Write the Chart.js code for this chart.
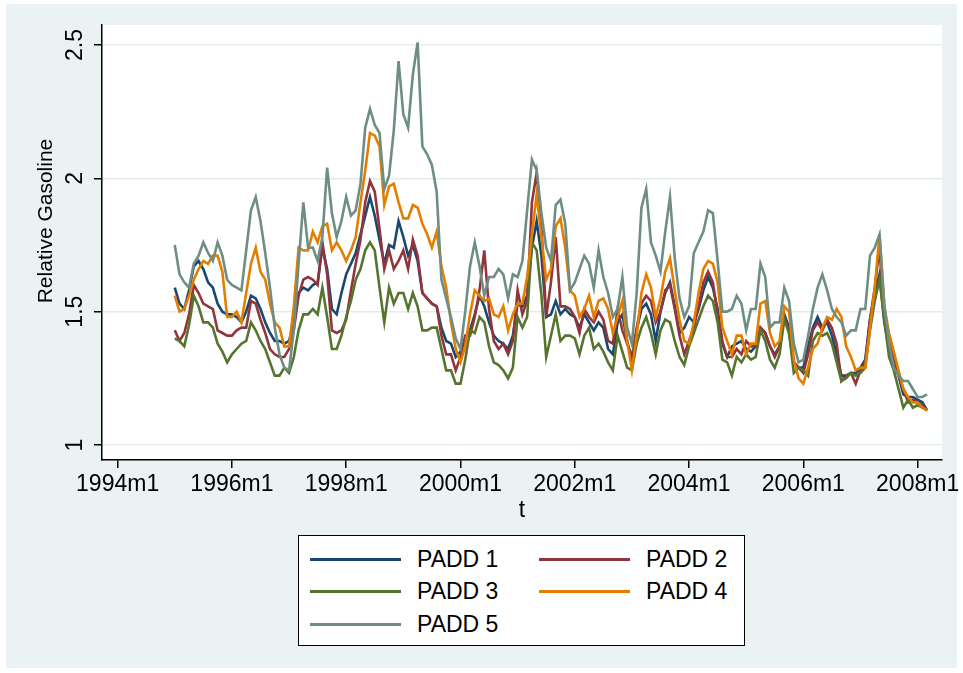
<!DOCTYPE html>
<html>
<head>
<meta charset="utf-8">
<script src="https://cdn.jsdelivr.net/npm/chart.js@4.4.1/dist/chart.umd.min.js"></script>
<style>
  html, body { margin: 0; padding: 0; background: #fff; }
  body { width: 963px; height: 673px; position: relative; overflow: hidden;
         font-family: "Liberation Sans", Arial, sans-serif; }
  #bg { position: absolute; left: 6px; top: 4px; right: 6px; bottom: 5px; background: #eaf2f3; }
  #c { position: absolute; left: 0; top: 0; }
  #legend { position: absolute; left: 298px; top: 535px; width: 447px; height: 111px;
            box-sizing: border-box; border: 1.5px solid #000; background: #fff; }
  .item { position: absolute; height: 28px; display: flex; align-items: center;
          font-size: 23px; color: #000; white-space: nowrap; }
  .item .swatch { width: 91px; height: 3px; margin-right: 16px; }
</style>
</head>
<body>
<div id="bg"></div>
<canvas id="c" width="963" height="673"></canvas>
<div id="legend"></div>
<script>
// ── Data: monthly relative gasoline, 1995m1 .. 2008m3 ─────────
const firstMonth = '1995m1';

const padd1 = [
  1.59, 1.53, 1.51, 1.58, 1.67, 1.69, 1.66, 1.61, 1.59, 1.53, 1.50, 1.49,
  1.49, 1.48, 1.46, 1.50, 1.56, 1.55, 1.51, 1.46, 1.42, 1.39, 1.39, 1.38,
  1.39, 1.46, 1.57, 1.59, 1.58, 1.60, 1.61, 1.74, 1.66, 1.51, 1.49, 1.57,
  1.64, 1.68, 1.72, 1.79, 1.86, 1.93, 1.86, 1.77, 1.68, 1.75, 1.74, 1.84,
  1.78, 1.71, 1.75, 1.69, 1.57, 1.55, 1.53, 1.52, 1.44, 1.39, 1.38, 1.33,
  1.35, 1.40, 1.43, 1.49, 1.56, 1.52, 1.46, 1.41, 1.39, 1.38, 1.36, 1.41,
  1.53, 1.52, 1.56, 1.74, 1.84, 1.71, 1.48, 1.49, 1.54, 1.49, 1.51, 1.49,
  1.48, 1.44, 1.49, 1.46, 1.43, 1.46, 1.44, 1.36, 1.34, 1.46, 1.49, 1.39,
  1.32, 1.43, 1.51, 1.53, 1.49, 1.39, 1.50, 1.57, 1.61, 1.52, 1.42, 1.44,
  1.48, 1.46, 1.51, 1.58, 1.63, 1.59, 1.51, 1.38, 1.33, 1.37, 1.38, 1.39,
  1.36, 1.35, 1.37, 1.44, 1.42, 1.37, 1.34, 1.37, 1.49, 1.44, 1.31, 1.29,
  1.29, 1.37, 1.44, 1.48, 1.44, 1.46, 1.41, 1.34, 1.26, 1.26, 1.27, 1.27,
  1.29, 1.32, 1.47, 1.57, 1.64, 1.46, 1.36, 1.31, 1.26, 1.19, 1.18, 1.18,
  1.17, 1.16, 1.13
];
const padd2 = [
  1.43, 1.39, 1.42, 1.49, 1.60, 1.57, 1.53, 1.52, 1.51, 1.43, 1.42, 1.41,
  1.41, 1.43, 1.44, 1.44, 1.54, 1.53, 1.47, 1.42, 1.36, 1.34, 1.33, 1.33,
  1.36, 1.43, 1.56, 1.62, 1.63, 1.62, 1.60, 1.76, 1.64, 1.43, 1.42, 1.43,
  1.47, 1.58, 1.68, 1.77, 1.91, 1.99, 1.95, 1.81, 1.66, 1.73, 1.66, 1.69,
  1.73, 1.66, 1.77, 1.71, 1.57, 1.55, 1.53, 1.52, 1.41, 1.34, 1.34, 1.28,
  1.33, 1.41, 1.41, 1.48, 1.58, 1.73, 1.51, 1.39, 1.36, 1.38, 1.34, 1.39,
  1.58, 1.49, 1.54, 1.91, 2.02, 1.82, 1.48, 1.61, 1.78, 1.52, 1.52, 1.51,
  1.48, 1.42, 1.51, 1.48, 1.46, 1.50, 1.47, 1.39, 1.38, 1.51, 1.43, 1.38,
  1.33, 1.44, 1.53, 1.56, 1.54, 1.46, 1.50, 1.58, 1.60, 1.51, 1.41, 1.34,
  1.39, 1.44, 1.52, 1.61, 1.65, 1.61, 1.49, 1.39, 1.33, 1.33, 1.36, 1.34,
  1.39, 1.37, 1.37, 1.44, 1.42, 1.37, 1.33, 1.37, 1.48, 1.42, 1.31, 1.29,
  1.27, 1.34, 1.43, 1.46, 1.43, 1.47, 1.44, 1.38, 1.24, 1.26, 1.27, 1.23,
  1.28, 1.31, 1.47, 1.59, 1.74, 1.47, 1.39, 1.32, 1.26, 1.21, 1.16, 1.17,
  1.16, 1.15, 1.13
];
const padd3 = [
  1.40, 1.39, 1.37, 1.45, 1.56, 1.52, 1.46, 1.46, 1.44, 1.38, 1.35, 1.31,
  1.34, 1.36, 1.38, 1.39, 1.46, 1.43, 1.39, 1.36, 1.31, 1.26, 1.26, 1.29,
  1.27, 1.33, 1.43, 1.49, 1.49, 1.51, 1.49, 1.59, 1.48, 1.36, 1.36, 1.41,
  1.48, 1.54, 1.62, 1.66, 1.73, 1.76, 1.73, 1.59, 1.46, 1.59, 1.53, 1.57,
  1.57, 1.51, 1.57, 1.52, 1.43, 1.43, 1.44, 1.44, 1.36, 1.28, 1.28, 1.23,
  1.23, 1.32, 1.43, 1.42, 1.48, 1.46, 1.37, 1.31, 1.30, 1.28, 1.25, 1.29,
  1.48, 1.44, 1.48, 1.76, 1.73, 1.56, 1.33, 1.41, 1.49, 1.39, 1.41, 1.41,
  1.40, 1.34, 1.41, 1.44, 1.36, 1.38, 1.35, 1.31, 1.28, 1.41, 1.35, 1.29,
  1.28, 1.38, 1.44, 1.48, 1.42, 1.34, 1.43, 1.47, 1.46, 1.39, 1.33, 1.30,
  1.37, 1.42, 1.47, 1.52, 1.56, 1.54, 1.46, 1.32, 1.31, 1.26, 1.33, 1.31,
  1.34, 1.32, 1.33, 1.43, 1.39, 1.32, 1.29, 1.34, 1.47, 1.42, 1.27, 1.29,
  1.28, 1.26, 1.39, 1.42, 1.41, 1.42, 1.38, 1.31, 1.24, 1.25, 1.27, 1.26,
  1.27, 1.29, 1.43, 1.54, 1.62, 1.47, 1.33, 1.28, 1.21, 1.14, 1.17, 1.14,
  1.15, 1.14, 1.13
];
const padd4 = [
  1.56, 1.50, 1.51, 1.56, 1.62, 1.66, 1.69, 1.68, 1.71, 1.71, 1.65, 1.48,
  1.48, 1.50, 1.46, 1.57, 1.68, 1.74, 1.65, 1.62, 1.53, 1.46, 1.44, 1.37,
  1.37, 1.52, 1.74, 1.73, 1.73, 1.80, 1.76, 1.82, 1.83, 1.73, 1.76, 1.73,
  1.69, 1.73, 1.78, 1.91, 2.03, 2.17, 2.16, 2.12, 1.90, 1.97, 1.98, 1.91,
  1.85, 1.85, 1.90, 1.89, 1.83, 1.79, 1.74, 1.80, 1.67, 1.59, 1.46, 1.36,
  1.31, 1.37, 1.49, 1.58, 1.56, 1.54, 1.55, 1.49, 1.48, 1.52, 1.43, 1.49,
  1.53, 1.53, 1.63, 1.79, 1.94, 1.78, 1.62, 1.66, 1.82, 1.85, 1.74, 1.58,
  1.56, 1.48, 1.51, 1.56, 1.48, 1.54, 1.55, 1.51, 1.42, 1.48, 1.54, 1.39,
  1.28, 1.41, 1.57, 1.64, 1.59, 1.48, 1.55, 1.65, 1.70, 1.58, 1.47, 1.39,
  1.38, 1.46, 1.57, 1.66, 1.69, 1.68, 1.61, 1.44, 1.39, 1.34, 1.41, 1.41,
  1.34, 1.38, 1.38, 1.53, 1.54, 1.42, 1.37, 1.39, 1.52, 1.50, 1.32, 1.25,
  1.23, 1.29, 1.36, 1.38, 1.44, 1.48, 1.47, 1.51, 1.48, 1.37, 1.33, 1.28,
  1.29, 1.29, 1.44, 1.59, 1.79, 1.52, 1.42, 1.35, 1.28, 1.21, 1.18, 1.16,
  1.16, 1.14, 1.13
];
const padd5 = [
  1.75, 1.64, 1.61, 1.59, 1.68, 1.71, 1.76, 1.72, 1.69, 1.76, 1.71, 1.62,
  1.60, 1.59, 1.58, 1.73, 1.88, 1.93, 1.84, 1.72, 1.59, 1.44, 1.34, 1.29,
  1.28, 1.43, 1.68, 1.91, 1.74, 1.74, 1.69, 1.78, 2.04, 1.87, 1.78, 1.84,
  1.93, 1.86, 1.88, 1.98, 2.19, 2.26, 2.20, 2.17, 1.96, 2.01, 2.18, 2.44,
  2.24, 2.19, 2.39, 2.51, 2.12, 2.09, 2.05, 1.95, 1.62, 1.55, 1.48, 1.40,
  1.36, 1.50, 1.67, 1.76, 1.67, 1.56, 1.63, 1.63, 1.66, 1.64, 1.55, 1.64,
  1.63, 1.69, 1.88, 2.07, 2.03, 1.87, 1.74, 1.69, 1.90, 1.92, 1.83, 1.58,
  1.61, 1.66, 1.71, 1.68, 1.59, 1.73, 1.63, 1.57, 1.48, 1.51, 1.63, 1.44,
  1.38, 1.57, 1.89, 1.96, 1.76, 1.71, 1.65, 1.80, 1.93, 1.70, 1.55, 1.48,
  1.52, 1.72, 1.76, 1.80, 1.88, 1.87, 1.69, 1.50, 1.50, 1.51, 1.56, 1.53,
  1.43, 1.51, 1.51, 1.68, 1.63, 1.44, 1.46, 1.46, 1.59, 1.54, 1.38, 1.31,
  1.32, 1.41, 1.51, 1.59, 1.64, 1.58, 1.51, 1.48, 1.46, 1.41, 1.43, 1.43,
  1.51, 1.51, 1.71, 1.74, 1.79, 1.53, 1.38, 1.29, 1.26, 1.24, 1.24, 1.21,
  1.18, 1.18, 1.19
];

const seriesNames  = ['PADD 1', 'PADD 2', 'PADD 3', 'PADD 4', 'PADD 5'];
const seriesValues = [padd1, padd2, padd3, padd4, padd5];
const seriesColors = ['#1a476f', '#90353b', '#55752f', '#e37e00', '#6e8e84'];

const xTickLabels = ['1994m1', '1996m1', '1998m1', '2000m1', '2002m1', '2004m1', '2006m1', '2008m1'];
const yTickValues = [1, 1.5, 2, 2.5];

// Stata %tm: months since 1960m1
function tm(label) {
    const [y, m] = label.split('m').map(Number);
    return (y - 1960) * 12 + (m - 1);
}

const FONT = '"Liberation Sans", Arial, Helvetica, sans-serif';
const t0 = tm(firstMonth);

// ── Plot region + rotated y labels, like Stata draws them ────
const stataFrame = {
    id: 'stataFrame',
    beforeDraw(chart) {
        const { ctx, chartArea: a } = chart;
        ctx.save();
        ctx.fillStyle = '#ffffff';
        ctx.fillRect(a.left, a.top, a.right - a.left, a.bottom - a.top);
        ctx.restore();
    },
    afterDraw(chart) {
        const { ctx, chartArea: a, scales } = chart;
        ctx.save();
        ctx.fillStyle = '#000';
        ctx.textAlign = 'center';
        ctx.textBaseline = 'alphabetic';
        ctx.font = '23px ' + FONT;
        yTickValues.forEach((v) => {
            ctx.save();
            ctx.translate(82, scales.y.getPixelForValue(v));
            ctx.rotate(-Math.PI / 2);
            ctx.fillText(String(v), 0, 0);
            ctx.restore();
        });
        ctx.save();
        ctx.font = '21px ' + FONT;
        ctx.translate(52, 221);
        ctx.rotate(-Math.PI / 2);
        ctx.fillText('Relative Gasoline', 0, 0);
        ctx.restore();
        ctx.font = '23px ' + FONT;
        ctx.fillText('t', (a.left + a.right) / 2, 517);
        ctx.restore();
    }
};

const ctx = document.getElementById('c').getContext('2d');
const chart = new Chart(ctx, {
    type: 'line',
    data: {
        datasets: seriesValues.map((vals, i) => ({
            label: seriesNames[i],
            data: vals.map((v, k) => ({ x: t0 + k, y: v })),
            borderColor: seriesColors[i],
            backgroundColor: seriesColors[i],
            borderWidth: 2.6,
            pointRadius: 0,
            tension: 0,
            fill: false,
            order: seriesNames.length - i   // later series on top, as in Stata
        }))
    },
    options: {
        responsive: false,
        devicePixelRatio: 1,
        animation: false,
        layout: { padding: { top: 25, right: 21, left: 0, bottom: 0 } },
        plugins: {
            legend: { display: false },
            tooltip: { enabled: false }
        },
        scales: {
            x: {
                type: 'linear',
                min: tm('1994m1') - 3.28,
                max: tm('2008m1') + 5.12,
                afterBuildTicks: (s) => { s.ticks = xTickLabels.map(l => ({ value: tm(l) })); },
                afterFit: (s) => { s.height = 673 - 460; },
                ticks: {
                    autoSkip: false,
                    maxRotation: 0,
                    color: '#000',
                    padding: 3,
                    font: { family: FONT, size: 23 },
                    callback: (v, i) => xTickLabels[i]
                },
                grid: { drawOnChartArea: false, drawTicks: true, tickLength: 8, color: '#000', lineWidth: 1.5 },
                border: { display: true, color: '#000', width: 1.5 }
            },
            y: {
                type: 'linear',
                min: 1 - 15 / 266.67,
                max: 2.5 + 20 / 266.67,
                afterBuildTicks: (s) => { s.ticks = yTickValues.map(v => ({ value: v })); },
                afterFit: (s) => { s.width = 102; },
                ticks: { display: false },
                grid: { color: '#e3ebed', lineWidth: 1.5, tickColor: '#000', tickLength: 8, drawTicks: true },
                border: { display: true, color: '#000', width: 1.5 }
            }
        }
    },
    plugins: [stataFrame]
});

// ── Legend: two columns inside a box ─────────────────────────
const legendBox = document.getElementById('legend');
const legendCols = [11, 240];
const legendRows = [9, 41, 74];
chart.data.datasets.forEach((ds, i) => {
    const item = document.createElement('div');
    item.className = 'item';
    item.style.left = legendCols[i % 2] + 'px';
    item.style.top = legendRows[Math.floor(i / 2)] + 'px';
    const sw = document.createElement('span');
    sw.className = 'swatch';
    sw.style.background = ds.borderColor;
    const tx = document.createElement('span');
    tx.textContent = ds.label;
    item.appendChild(sw);
    item.appendChild(tx);
    legendBox.appendChild(item);
});
</script>
</body>
</html>
